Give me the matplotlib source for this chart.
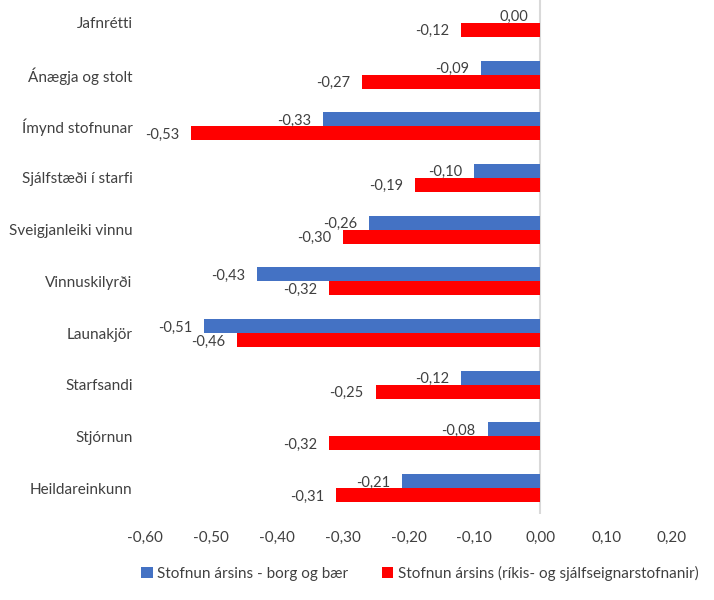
import numpy as np
import matplotlib.pyplot as plt
from matplotlib.ticker import FuncFormatter

plt.rcParams['font.family'] = ['Lato', 'DejaVu Sans']

# gögn (frá toppi til botns)
flokkar = ['Jafnrétti', 'Ánægja og stolt', 'Ímynd stofnunar', 'Sjálfstæði í starfi',
           'Sveigjanleiki vinnu', 'Vinnuskilyrði', 'Launakjör', 'Starfsandi',
           'Stjórnun', 'Heildareinkunn']
borg_og_baer = [0.00, -0.09, -0.33, -0.10, -0.26, -0.43, -0.51, -0.12, -0.08, -0.21]
rikis = [-0.12, -0.27, -0.53, -0.19, -0.30, -0.32, -0.46, -0.25, -0.32, -0.31]
x_ticks = [-0.6, -0.5, -0.4, -0.3, -0.2, -0.1, 0.0, 0.1, 0.2]

lbl_blue = 'Stofnun ársins - borg og bær'
lbl_red = 'Stofnun ársins (ríkis- og sjálfseignarstofnanir)'

txt = '#404040'
komma = lambda v: f'{v:.2f}'.replace('.', ',').replace('-0,00', '0,00')

fig = plt.figure(figsize=(7.14, 6.0), dpi=100)
ax = fig.add_axes([145/714, 86/600, 527/714, 517/600])

y = np.arange(len(flokkar))[::-1]
h = 0.27
b1 = ax.barh(y + h/2, borg_og_baer, height=h, color='#4472C4', label=lbl_blue)
b2 = ax.barh(y - h/2, rikis, height=h, color='#FF0000', label=lbl_red)

# gildismerki vinstra megin við enda súlunnar
for bars, vals in ((b1, borg_og_baer), (b2, rikis)):
    for rect, v in zip(bars, vals):
        ax.annotate(komma(v), (v, rect.get_y() + rect.get_height()/2),
                    xytext=(-8.5, -1), textcoords='offset points',
                    ha='right', va='center', fontsize=10.5, color=txt)

ax.axvline(0, color='#D9D9D9', lw=1.5, zorder=0)
ax.set_xlim(-0.6, 0.2)
ax.set_ylim(-0.5, 9.5)
ax.set_xticks(x_ticks)
ax.xaxis.set_major_formatter(FuncFormatter(lambda v, p: komma(v)))
ax.set_yticks(y)
ax.set_yticklabels(flokkar)
ax.tick_params(axis='both', length=0, labelsize=11, labelcolor=txt)
ax.tick_params(axis='x', pad=12)
ax.tick_params(axis='y', pad=9)
for s in ax.spines.values():
    s.set_visible(False)

fig.legend(loc='center', bbox_to_anchor=(0.588, 0.045), ncol=2, frameon=False,
           fontsize=11, labelcolor=txt, handlelength=0.75, handleheight=0.75,
           handletextpad=0.3, columnspacing=2.2)

fig.savefig('out.png', dpi=100)
